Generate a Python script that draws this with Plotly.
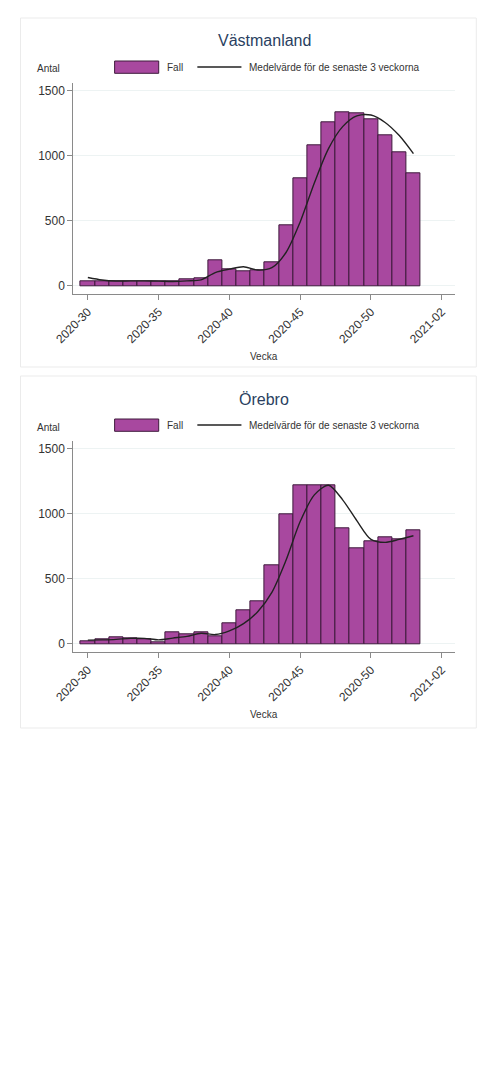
import plotly.graph_objects as go

W, H = 483, 1081

weeks = ["2020-%02d" % w for w in range(30, 54)]
tick_labels = ["2020-30", "2020-35", "2020-40", "2020-45", "2020-50", "2021-02"]
tick_pos = [0, 5, 10, 15, 20, 25]

vast_cases = [36, 38, 38, 38, 38, 31, 31, 51, 56, 199, 128, 115, 120, 181, 467,
              826, 1081, 1257, 1334, 1326, 1280, 1161, 1025, 862]
vast_mean = [64, 45, 37, 38, 38, 36, 33, 38, 46, 102, 128, 147, 121, 139, 256,
             491, 791, 1055, 1224, 1306, 1313, 1256, 1155, 1016]

ore_cases = [20, 33, 49, 44, 33, 13, 85, 72, 87, 54, 156, 256, 328, 605, 995,
             1221, 1218, 1218, 885, 738, 785, 818, 805, 869]
ore_mean = [28, 30, 34, 42, 42, 30, 44, 57, 81, 71, 99, 155, 247, 396, 643,
            940, 1145, 1219, 1107, 947, 803, 780, 803, 831]

panels = [("Västmanland", vast_cases, vast_mean, 0), ("Örebro", ore_cases, ore_mean, 358)]

BAR = "#a8489f"
FONT = "Liberation Sans, Arial, sans-serif"


def py(px):
    return 1 - px / H


def pxx(px):
    return px / W


x_idx = list(range(len(weeks)))

fig = go.Figure()
shapes = []
annotations = []
for i, (name, cases, mean, off) in enumerate(panels):
    n = "" if i == 0 else str(i + 1)
    fig.add_trace(go.Bar(x=x_idx, y=cases, name="Fall", width=1,
                         marker=dict(color=BAR, line=dict(color="#3e1a3c", width=1)),
                         customdata=weeks, hovertemplate="%{customdata}: %{y}<extra></extra>",
                         xaxis="x" + n, yaxis="y" + n, showlegend=False))
    fig.add_trace(go.Scatter(x=x_idx, y=mean, mode="lines", name="Medelvärde för de senaste 3 veckorna",
                             line=dict(color="#222222", width=1.4, shape="spline", smoothing=0.8),
                             xaxis="x" + n, yaxis="y" + n, showlegend=False))
    top, bot = 83.3 + off, 294 + off
    fig.layout["xaxis" + n] = dict(
        domain=[pxx(55.7), pxx(454)], anchor="y" + n, range=[-1.02, 25.95],
        tickmode="array", tickvals=tick_pos, ticktext=tick_labels, tickangle=-45,
        showgrid=False, zeroline=False, showline=True, linecolor="#8a8a8a", linewidth=1.3,
        ticks="outside", ticklen=5, tickcolor="#8a8a8a",
        tickfont=dict(size=12, color="#333333", family=FONT))
    fig.layout["yaxis" + n] = dict(
        domain=[py(bot), py(top)], anchor="x" + n, range=[-63, 1557],
        tickmode="array", tickvals=[0, 500, 1000, 1500],
        showgrid=True, gridcolor="#edf3f3", gridwidth=1, zeroline=False,
        showline=True, linecolor="#8a8a8a", linewidth=1.3,
        ticks="outside", ticklen=5, tickcolor="#8a8a8a",
        tickfont=dict(size=12, color="#333333", family=FONT))
    # panel border
    shapes.append(dict(type="rect", xref="paper", yref="paper",
                       x0=pxx(0.5), x1=pxx(476), y0=py(18 + off), y1=py(367 + off + 3 * i),
                       line=dict(color="#ebebeb", width=1), fillcolor="rgba(0,0,0,0)", layer="below"))
    # legend
    shapes.append(dict(type="rect", xref="paper", yref="paper",
                       x0=pxx(98.7), x1=pxx(144.7), y0=py(73.3 + off), y1=py(61 + off),
                       fillcolor=BAR, line=dict(color="#3e1a3c", width=1)))
    shapes.append(dict(type="line", xref="paper", yref="paper",
                       x0=pxx(185), x1=pxx(231), y0=py(67 + off), y1=py(67 + off),
                       line=dict(color="#222222", width=1.4)))
    annotations += [
        dict(text=name, x=pxx(255), y=py(41 + off), xref="paper", yref="paper",
             xanchor="center", yanchor="middle", showarrow=False,
             font=dict(size=16, color="#2a3f5f", family=FONT)),
        dict(text="Antal", x=pxx(16), y=py(69 + off), xref="paper", yref="paper",
             xanchor="left", yanchor="middle", showarrow=False,
             font=dict(size=10, color="#333333", family=FONT)),
        dict(text="Fall", x=pxx(151), y=py(67.5 + off), xref="paper", yref="paper",
             xanchor="left", yanchor="middle", showarrow=False,
             font=dict(size=10, color="#333333", family=FONT)),
        dict(text="Medelvärde för de senaste 3 veckorna", x=pxx(237), y=py(67.5 + off),
             xref="paper", yref="paper", xanchor="left", yanchor="middle", showarrow=False,
             font=dict(size=10, color="#333333", family=FONT)),
        dict(text="Vecka", x=pxx(255), y=py(356.7 + off), xref="paper", yref="paper",
             xanchor="center", yanchor="middle", showarrow=False,
             font=dict(size=10, color="#333333", family=FONT)),
    ]

fig.update_layout(width=W, height=H, margin=dict(l=0, r=0, t=0, b=0),
                  paper_bgcolor="white", plot_bgcolor="white", bargap=0,
                  shapes=shapes, annotations=annotations, showlegend=False,
                  font=dict(family=FONT))
fig.write_html("out.html", config={"displayModeBar": False},
               post_script="document.body.style.margin='0';document.body.style.overflow='hidden';")
